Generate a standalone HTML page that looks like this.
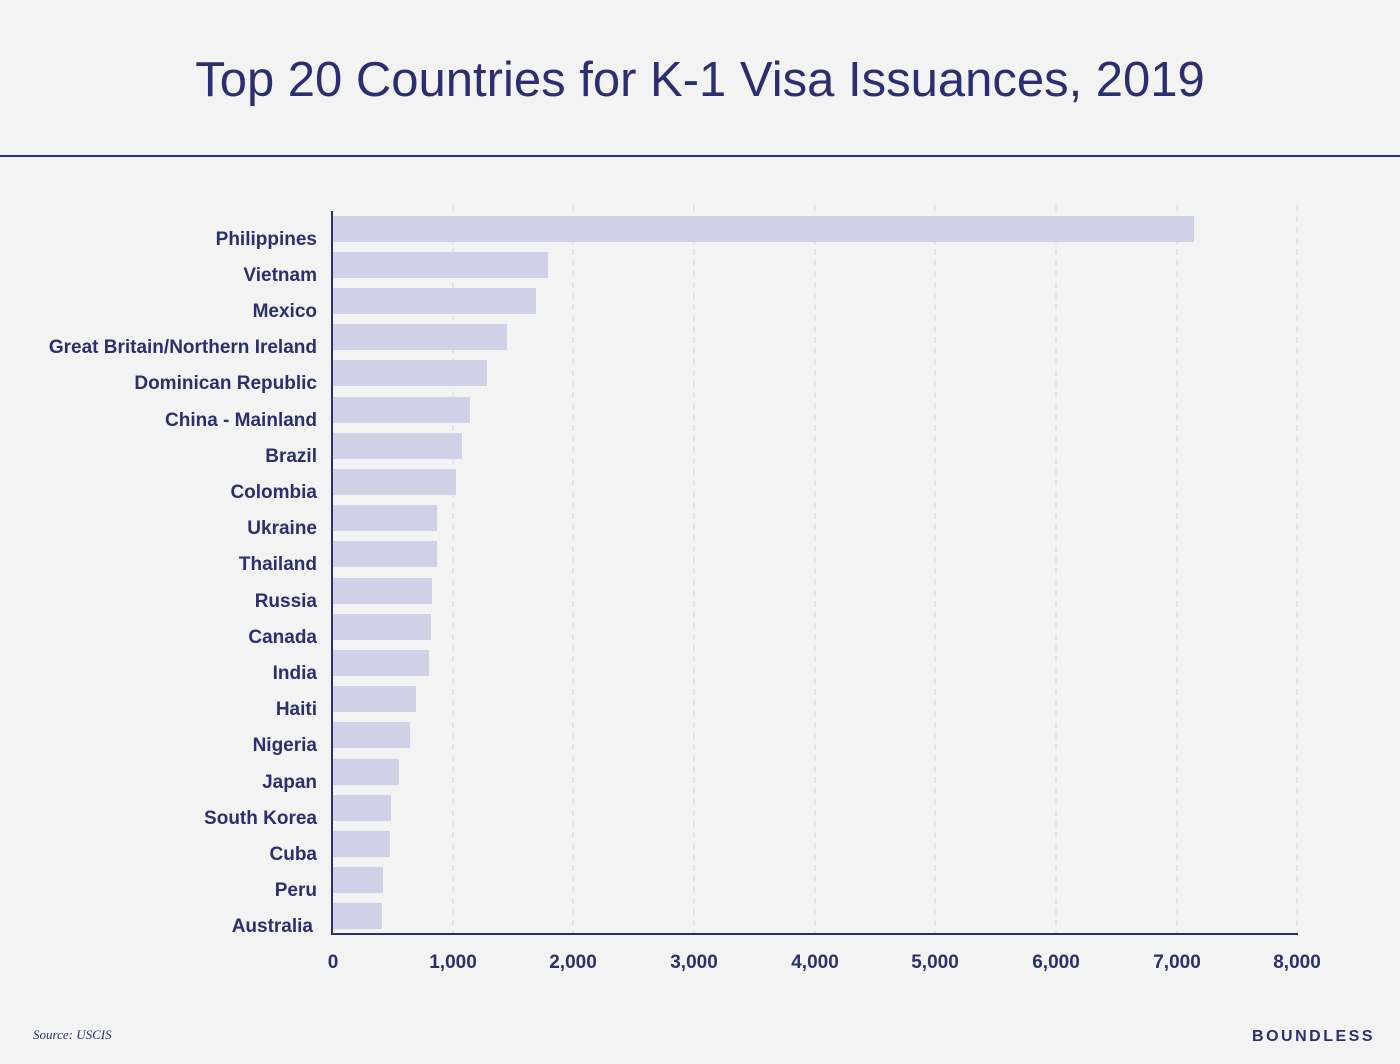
<!DOCTYPE html>
<html><head><meta charset="utf-8"><style>
body{margin:0;background:#f3f3f3;}
svg{display:block}
text{font-family:"Liberation Sans",sans-serif;fill:#2b2f72}
</style></head><body>
<svg width="1400" height="1064" viewBox="0 0 1400 1064">
<rect width="1400" height="1064" fill="#f3f3f3"/>
<text x="700" y="96" text-anchor="middle" font-size="49" style="fill:#2b2f72">Top 20 Countries for K-1 Visa Issuances, 2019</text>
<rect x="0" y="155" width="1400" height="2" fill="#2b2f72"/>
<g stroke="#d6d6dc" stroke-width="1" stroke-dasharray="6,5">
<line x1="453" y1="205" x2="453" y2="934"/><line x1="573" y1="205" x2="573" y2="934"/>
<line x1="694" y1="205" x2="694" y2="934"/><line x1="815" y1="205" x2="815" y2="934"/>
<line x1="935" y1="205" x2="935" y2="934"/><line x1="1056" y1="205" x2="1056" y2="934"/>
<line x1="1177" y1="205" x2="1177" y2="934"/><line x1="1297" y1="205" x2="1297" y2="934"/>
</g>
<g fill="#cfd1e6">
<rect x="333" y="216" width="861" height="26"/>
<rect x="333" y="252" width="215" height="26"/>
<rect x="333" y="288" width="203" height="26"/>
<rect x="333" y="324" width="174" height="26"/>
<rect x="333" y="360" width="154" height="26"/>
<rect x="333" y="397" width="137" height="26"/>
<rect x="333" y="433" width="129" height="26"/>
<rect x="333" y="469" width="123" height="26"/>
<rect x="333" y="505" width="104" height="26"/>
<rect x="333" y="541" width="104" height="26"/>
<rect x="333" y="578" width="99" height="26"/>
<rect x="333" y="614" width="98" height="26"/>
<rect x="333" y="650" width="96" height="26"/>
<rect x="333" y="686" width="83" height="26"/>
<rect x="333" y="722" width="77" height="26"/>
<rect x="333" y="759" width="66" height="26"/>
<rect x="333" y="795" width="58" height="26"/>
<rect x="333" y="831" width="57" height="26"/>
<rect x="333" y="867" width="50" height="26"/>
<rect x="333" y="903" width="49" height="26"/>
</g>
<rect x="331" y="211" width="2" height="724" fill="#2b2f72"/>
<rect x="331" y="933" width="967" height="2" fill="#2b2f72"/>
<g font-size="19" font-weight="bold" text-anchor="end">
<text x="317" y="245">Philippines</text>
<text x="317" y="281">Vietnam</text>
<text x="317" y="317">Mexico</text>
<text x="317" y="353">Great Britain/Northern Ireland</text>
<text x="317" y="389">Dominican Republic</text>
<text x="317" y="426">China - Mainland</text>
<text x="317" y="462">Brazil</text>
<text x="317" y="498">Colombia</text>
<text x="317" y="534">Ukraine</text>
<text x="317" y="570">Thailand</text>
<text x="317" y="607">Russia</text>
<text x="317" y="643">Canada</text>
<text x="317" y="679">India</text>
<text x="317" y="715">Haiti</text>
<text x="317" y="751">Nigeria</text>
<text x="317" y="788">Japan</text>
<text x="317" y="824">South Korea</text>
<text x="317" y="860">Cuba</text>
<text x="317" y="896">Peru</text>
<text x="313" y="932">Australia</text>
</g>
<g font-size="19" font-weight="bold" text-anchor="middle">
<text x="333" y="968">0</text><text x="453" y="968">1,000</text><text x="573" y="968">2,000</text>
<text x="694" y="968">3,000</text><text x="815" y="968">4,000</text><text x="935" y="968">5,000</text>
<text x="1056" y="968">6,000</text><text x="1177" y="968">7,000</text><text x="1297" y="968">8,000</text>
</g>
<text x="33" y="1039" font-size="13" font-style="italic" style="font-family:'Liberation Serif',serif;fill:#2b2f72">Source: USCIS</text>
<text x="1375" y="1041" font-size="16" font-weight="bold" text-anchor="end" letter-spacing="2.5">BOUNDLESS</text>
</svg>
</body></html>
